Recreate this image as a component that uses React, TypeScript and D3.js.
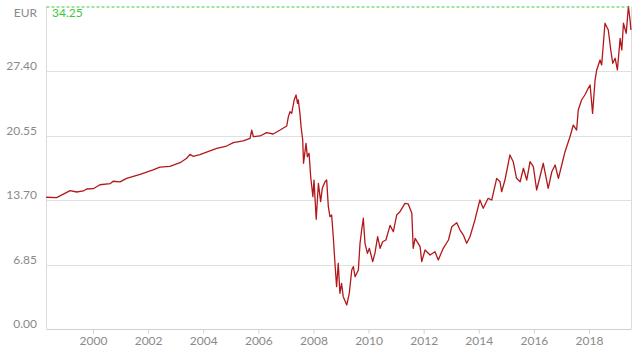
import React, { useRef, useEffect } from "react";
import * as d3 from "d3";

// time in decimal years, price in EUR
const years = [
  1998.3, 1998.68, 1999.17, 1999.41, 1999.65, 1999.77, 2000.01, 2000.25, 2000.62, 2000.73,
  2000.98, 2001.22, 2001.71, 2002.18, 2002.43, 2002.79, 2003.16, 2003.4, 2003.52, 2003.63,
  2003.88, 2004.0, 2004.49, 2004.85, 2005.09, 2005.45, 2005.7, 2005.76, 2005.82, 2006.06,
  2006.3, 2006.54, 2006.79, 2007.03, 2007.09, 2007.15, 2007.21, 2007.3, 2007.37, 2007.42,
  2007.45, 2007.51, 2007.55, 2007.61, 2007.64, 2007.7, 2007.73, 2007.78, 2007.84, 2007.9,
  2007.98, 2008.02, 2008.1, 2008.18, 2008.26, 2008.32, 2008.42, 2008.48, 2008.54, 2008.6,
  2008.66, 2008.72, 2008.78, 2008.84, 2008.9, 2008.96, 2009.02, 2009.08, 2009.21, 2009.3,
  2009.39, 2009.45, 2009.51, 2009.63, 2009.69, 2009.75, 2009.81, 2009.87, 2009.96, 2010.03,
  2010.15, 2010.23, 2010.33, 2010.42, 2010.51, 2010.63, 2010.78, 2010.9, 2011.02, 2011.14,
  2011.32, 2011.44, 2011.57, 2011.62, 2011.69, 2011.87, 2011.93, 2012.05, 2012.23, 2012.41,
  2012.53, 2012.71, 2012.9, 2013.02, 2013.2, 2013.32, 2013.44, 2013.56, 2013.68, 2013.86,
  2014.04, 2014.16, 2014.34, 2014.47, 2014.65, 2014.77, 2014.83, 2014.95, 2015.13, 2015.25,
  2015.37, 2015.5, 2015.62, 2015.74, 2015.86, 2015.98, 2016.1, 2016.22, 2016.34, 2016.52,
  2016.65, 2016.77, 2016.89, 2017.01, 2017.13, 2017.31, 2017.43, 2017.55, 2017.61, 2017.73,
  2017.85, 2017.97, 2018.04, 2018.13, 2018.22, 2018.28, 2018.4, 2018.46, 2018.58, 2018.7,
  2018.79, 2018.86, 2018.95, 2019.03, 2019.13, 2019.19, 2019.25, 2019.35, 2019.43, 2019.49,
  2019.52,
];
const prices = [
  13.99, 13.95, 14.69, 14.55, 14.66, 14.87, 14.9, 15.32, 15.43, 15.69,
  15.62, 16.0, 16.43, 16.89, 17.2, 17.28, 17.66, 18.13, 18.55, 18.34,
  18.51, 18.66, 19.19, 19.43, 19.79, 19.97, 20.25, 21.13, 20.42, 20.5,
  20.85, 20.71, 21.13, 21.56, 22.55, 23.08, 22.9, 24.32, 24.85, 23.97,
  24.32, 22.9, 21.49, 20.07, 17.6, 19.0, 19.72, 18.3, 18.66, 16.17,
  14.05, 15.82, 11.65, 15.47, 13.52, 14.94, 15.64, 15.82, 12.99, 11.93,
  12.1, 9.8, 6.98, 4.49, 6.98, 3.79, 4.85, 3.43, 2.55, 3.79,
  6.27, 6.62, 5.55, 6.27, 9.1, 10.51, 11.76, 9.1, 8.04, 8.57,
  7.15, 8.04, 9.8, 8.57, 9.27, 9.45, 11.0, 10.33, 12.1, 12.46,
  13.35, 13.28, 12.29, 8.57, 9.63, 8.74, 7.15, 8.39, 7.86, 8.21,
  7.33, 8.57, 9.45, 10.86, 11.29, 10.51, 9.98, 9.1, 9.8, 11.58,
  13.7, 12.82, 13.88, 13.7, 16.0, 15.64, 14.58, 15.82, 18.48, 17.77,
  16.0, 15.64, 17.07, 15.82, 17.77, 17.24, 14.76, 16.17, 17.6, 14.94,
  16.7, 17.42, 16.0, 17.42, 18.83, 20.42, 21.66, 21.13, 23.26, 24.32,
  24.85, 25.56, 25.91, 22.9, 26.44, 27.51, 28.57, 28.04, 32.47, 31.75,
  29.63, 28.22, 28.75, 27.51, 30.87, 29.63, 32.47, 31.4, 34.25, 32.82,
  31.75,
];
const yTicks = [0, 6.85, 13.7, 20.55, 27.4];
const xTicks = [2000, 2002, 2004, 2006, 2008, 2010, 2012, 2014, 2016, 2018];
const maxPrice = 34.25;
const unit = "EUR";

const App = () => {
  const svgRef = useRef(null);

  useEffect(() => {
    const width = 640;
    const height = 347;
    const margin = { top: 6.5, right: 9, bottom: 18, left: 46 };
    const font = "Lato, 'Open Sans', sans-serif";

    const svg = d3.select(svgRef.current).attr("width", width).attr("height", height);
    svg.selectAll("*").remove();

    const x = d3
      .scaleLinear()
      .domain([1998.294, 2019.524])
      .range([margin.left, width - margin.right]);
    const y = d3
      .scaleLinear()
      .domain([0, maxPrice])
      .range([height - margin.bottom, margin.top]);

    const x0 = margin.left + 0.5;
    const x1 = width - margin.right + 0.5;

    // gridlines
    svg
      .append("g")
      .selectAll("line")
      .data(yTicks.filter((d) => d > 0))
      .join("line")
      .attr("x1", x0)
      .attr("x2", x1)
      .attr("y1", (d) => Math.round(y(d)) + 0.5)
      .attr("y2", (d) => Math.round(y(d)) + 0.5)
      .attr("stroke", "#e0e0e0");

    // frame
    svg
      .append("line")
      .attr("x1", x0)
      .attr("x2", x0)
      .attr("y1", y(maxPrice))
      .attr("y2", y(0))
      .attr("stroke", "#dcdcdc");
    svg
      .append("line")
      .attr("x1", x1)
      .attr("x2", x1)
      .attr("y1", y(maxPrice))
      .attr("y2", y(0))
      .attr("stroke", "#dcdcdc");

    // y labels
    svg
      .append("g")
      .selectAll("text")
      .data(yTicks)
      .join("text")
      .attr("x", 37)
      .attr("y", (d) => Math.round(y(d)) - 1)
      .attr("text-anchor", "end")
      .attr("font-family", font)
      .attr("font-size", 12)
      .attr("fill", "#8a8a8a")
      .text((d) => d.toFixed(2));
    svg
      .append("text")
      .attr("x", 37)
      .attr("y", 17)
      .attr("text-anchor", "end")
      .attr("font-family", font)
      .attr("font-size", 12)
      .attr("fill", "#8a8a8a")
      .text(unit);

    // x axis
    const xAxis = svg
      .append("g")
      .attr("transform", `translate(0,${Math.round(y(0)) + 0.5})`)
      .call(
        d3
          .axisBottom(x)
          .tickValues(xTicks)
          .tickSize(4)
          .tickPadding(3)
          .tickFormat(d3.format("d"))
      );
    xAxis.select(".domain").attr("stroke", "#d0d0d0").attr("d", `M${x0},0H${x1}`);
    xAxis.selectAll(".tick line").attr("stroke", "#d0d0d0");
    xAxis
      .selectAll(".tick text")
      .attr("font-family", font)
      .attr("font-size", 12)
      .attr("fill", "#8a8a8a");

    // price line
    const data = years.map((t, i) => ({ t, v: prices[i] }));
    svg
      .append("path")
      .datum(data)
      .attr("fill", "none")
      .attr("stroke", "#b2181b")
      .attr("stroke-width", 1.3)
      .attr("stroke-linejoin", "round")
      .attr(
        "d",
        d3
          .line()
          .x((d) => x(d.t))
          .y((d) => y(d.v))
      );

    // max marker
    svg
      .append("line")
      .attr("x1", x0)
      .attr("x2", x1)
      .attr("y1", y(maxPrice) + 0.5)
      .attr("y2", y(maxPrice) + 0.5)
      .attr("stroke", "#3cc83c")
      .attr("stroke-dasharray", "3,2");
    svg
      .append("text")
      .attr("x", 52)
      .attr("y", 17)
      .attr("font-family", font)
      .attr("font-size", 12)
      .attr("fill", "#3cc83c")
      .text(maxPrice.toFixed(2));
  }, []);

  return <svg ref={svgRef} style={{ position: "absolute", left: 0, top: 0 }}></svg>;
};

export default App;
